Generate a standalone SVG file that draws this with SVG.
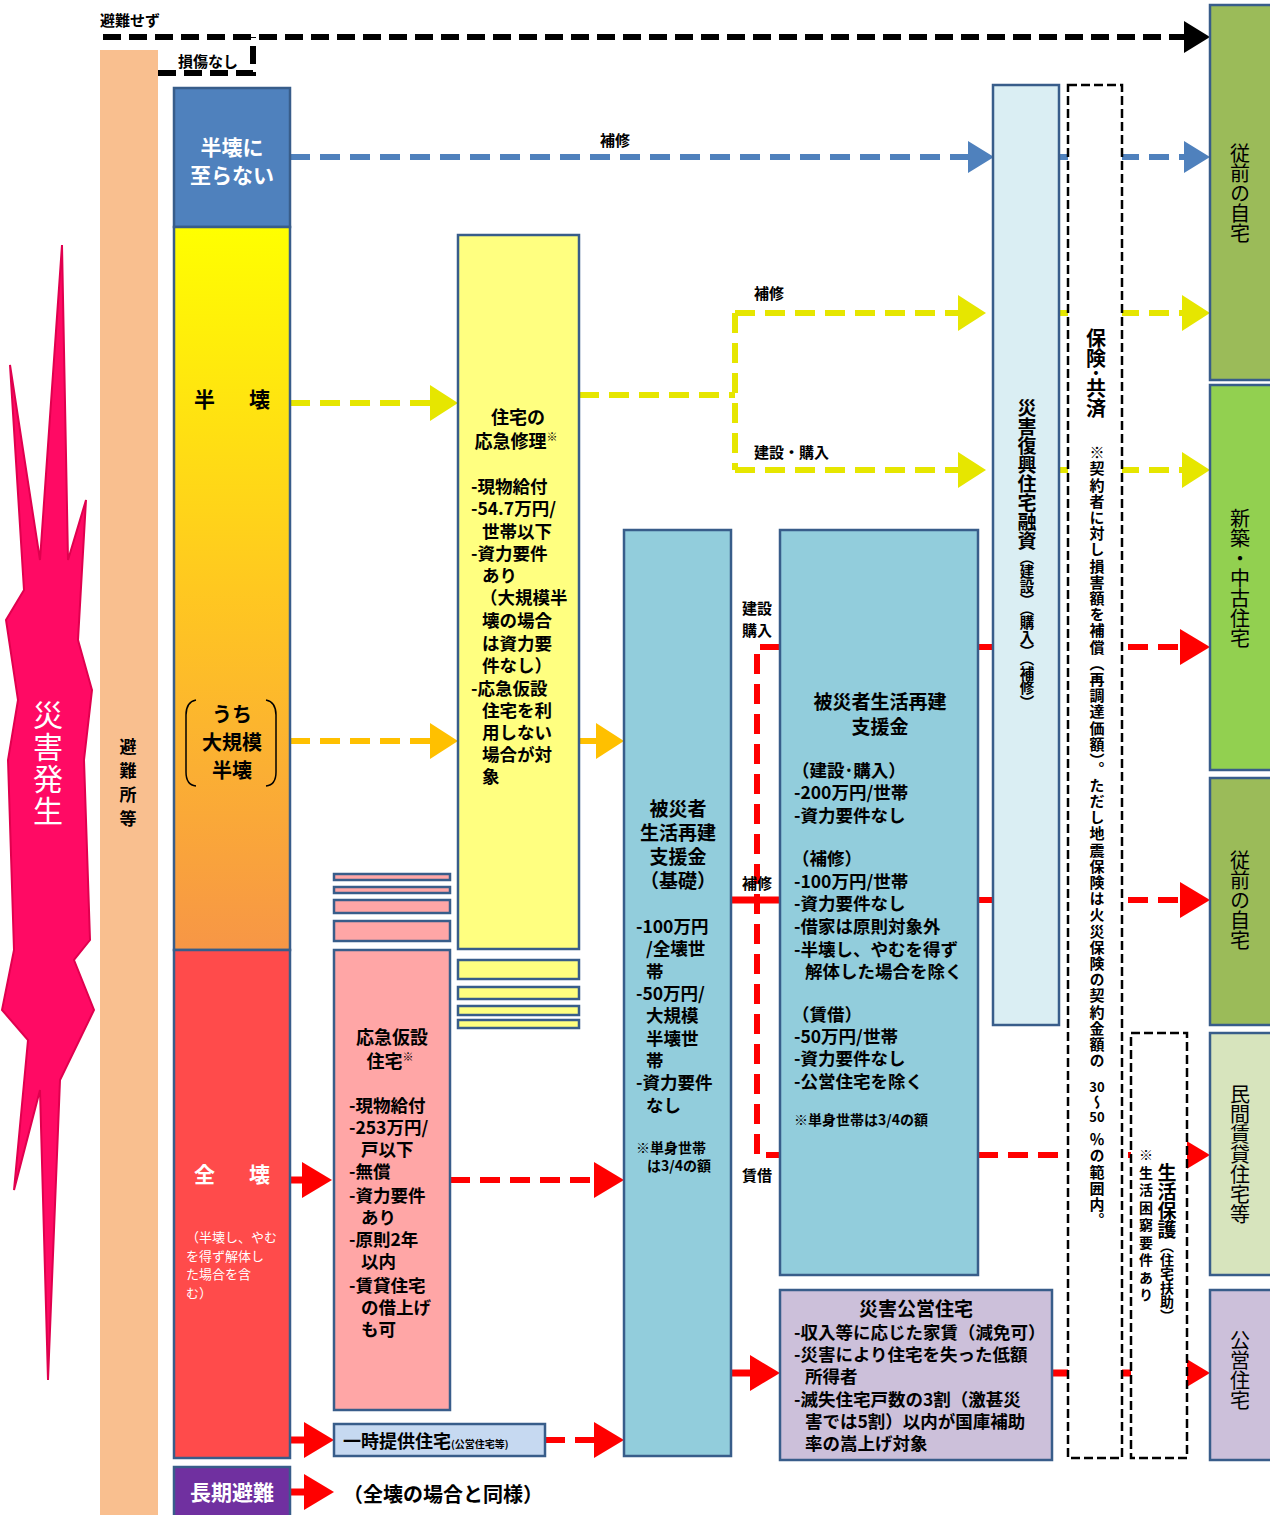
<svg xmlns="http://www.w3.org/2000/svg" width="1270" height="1515" viewBox="0 0 1270 1515">
<defs>
<linearGradient id="gHalf" x1="0" y1="0" x2="0" y2="1">
<stop offset="0" stop-color="#FFFF00"/>
<stop offset="0.5" stop-color="#FFC820"/>
<stop offset="1" stop-color="#F79646"/>
</linearGradient>
<marker id="aK" markerUnits="userSpaceOnUse" markerWidth="26" markerHeight="32" refX="0" refY="16" orient="auto"><path d="M0,0 L26,16 L0,32 Z" fill="#000"/></marker>
<marker id="aB" markerUnits="userSpaceOnUse" markerWidth="26" markerHeight="32" refX="0" refY="16" orient="auto"><path d="M0,0 L26,16 L0,32 Z" fill="#4F81BD"/></marker>
<marker id="aY" markerUnits="userSpaceOnUse" markerWidth="28" markerHeight="36" refX="0" refY="18" orient="auto"><path d="M0,0 L28,18 L0,36 Z" fill="#E6E600"/></marker>
<marker id="aO" markerUnits="userSpaceOnUse" markerWidth="28" markerHeight="36" refX="0" refY="18" orient="auto"><path d="M0,0 L28,18 L0,36 Z" fill="#FFC000"/></marker>
<marker id="aR" markerUnits="userSpaceOnUse" markerWidth="30" markerHeight="36" refX="0" refY="18" orient="auto"><path d="M0,0 L30,18 L0,36 Z" fill="#FF0000"/></marker>
</defs>
<style>
text{font-family:"Noto Sans CJK JP","Noto Sans CJK SC",sans-serif;font-weight:bold;fill:#000}
.box{stroke:#385D8A;stroke-width:2.5}
.dk{fill:none;stroke:#000;stroke-width:6;stroke-dasharray:18 8}
.db{fill:none;stroke:#4F81BD;stroke-width:6;stroke-dasharray:20 10}
.dy{fill:none;stroke:#E6E600;stroke-width:6;stroke-dasharray:20 10}
.so{fill:none;stroke:#FFC000;stroke-width:6}
.do{fill:none;stroke:#FFC000;stroke-width:6;stroke-dasharray:20 10}
.dr{fill:none;stroke:#FF0000;stroke-width:6;stroke-dasharray:20 10}
.sr{fill:none;stroke:#FF0000;stroke-width:7}
.dash{fill:#fff;stroke:#000;stroke-width:2.5;stroke-dasharray:9 4}
.v{writing-mode:vertical-rl}
.t17{font-size:17.5px}
.lbl{font-size:15px}
.w{fill:#fff}
.rc{font-size:20px;font-weight:normal}
</style>

<g id="disaster">
<polygon points="62,245 68,560 86,500 78,640 92,690 84,760 90,940 74,960 94,1010 60,1080 48,1380 40,1090 14,1190 28,1040 2,1010 14,950 8,760 18,700 6,620 24,590 10,365 40,560" fill="#FF0A64" stroke="#E0004E" stroke-width="2"/>
<text class="v w" x="48" y="700" style="font-size:30px;font-weight:normal;letter-spacing:2px">災害発生</text>
</g>

<g id="shelter">
<rect x="100" y="50" width="58" height="1470" fill="#F9BF8F"/>
<text class="v" x="128" y="738" style="font-size:17px;letter-spacing:7px">避難所等</text>
</g>

<g id="connectors">
<path class="dk" d="M103,37 H1184" marker-end="url(#aK)"/>
<path class="dk" d="M158,73 H253 V37"/>
<path class="db" d="M290,157 H968" marker-end="url(#aB)"/>
<path class="db" d="M1059,157 H1184" marker-end="url(#aB)"/>
<path class="dy" d="M290,403 H430" marker-end="url(#aY)"/>
<path class="dy" d="M579,395 H735"/>
<path class="dy" d="M735,313 V470"/>
<path class="dy" d="M735,313 H958" marker-end="url(#aY)"/>
<path class="dy" d="M735,470 H958" marker-end="url(#aY)"/>
<path class="dy" d="M1059,313 H1182" marker-end="url(#aY)"/>
<path class="dy" d="M1059,470 H1182" marker-end="url(#aY)"/>
<path class="do" d="M290,741 H430" marker-end="url(#aO)"/>
<path class="so" d="M579,741 H596" marker-end="url(#aO)"/>
<path class="sr" d="M290,1180 H302" marker-end="url(#aR)"/>
<path class="dr" d="M450,1180 H594" marker-end="url(#aR)"/>
<path class="sr" d="M290,1440 H304" marker-end="url(#aR)"/>
<path class="dr" d="M545,1440 H594" marker-end="url(#aR)"/>
<path class="sr" d="M290,1492 H304" marker-end="url(#aR)"/>
<path class="sr" d="M731,1373 H750" marker-end="url(#aR)"/>
<path class="dr" d="M780,647 H757 V1155 H780"/>
<path class="sr" d="M731,900 H780"/>
<path class="dr" d="M978,647 H1180" marker-end="url(#aR)"/>
<path class="dr" d="M978,900 H1180" marker-end="url(#aR)"/>
<path class="dr" d="M978,1155 H1180" marker-end="url(#aR)"/>
<path class="sr" d="M1052,1373 H1180" marker-end="url(#aR)"/>
<text class="lbl" x="100" y="26">避難せず</text>
<text class="lbl" x="178" y="67">損傷なし</text>
<text class="lbl" x="600" y="146">補修</text>
<text class="lbl" x="754" y="299">補修</text>
<text class="lbl" x="754" y="458">建設・購入</text>
<text class="lbl" x="742" y="614">建設</text>
<text class="lbl" x="742" y="636">購入</text>
<text class="lbl" x="742" y="889">補修</text>
<text class="lbl" x="742" y="1181">賃借</text>
</g>

<g id="n-not-half">
<rect class="box" x="174" y="88" width="116" height="139" fill="#4F81BD"/>
<text class="w" x="232" y="155" text-anchor="middle" style="font-size:21px">半壊に</text>
<text class="w" x="232" y="183" text-anchor="middle" style="font-size:21px">至らない</text>
</g>

<g id="n-half">
<rect class="box" x="174" y="227" width="116" height="723" fill="url(#gHalf)"/>
<text x="194" y="407" style="font-size:21px">半</text>
<text x="249" y="407" style="font-size:21px">壊</text>
<path d="M196,700 Q186,702 186,715 V772 Q186,785 196,786" fill="none" stroke="#000" stroke-width="1.5"/>
<path d="M266,700 Q276,702 276,715 V772 Q276,785 266,786" fill="none" stroke="#000" stroke-width="1.5"/>
<text x="232" y="722" text-anchor="middle" style="font-size:20px">うち</text>
<text x="232" y="750" text-anchor="middle" style="font-size:20px">大規模</text>
<text x="232" y="778" text-anchor="middle" style="font-size:20px">半壊</text>
</g>

<g id="n-full">
<rect class="box" x="174" y="950" width="116" height="508" fill="#FF4B4B"/>
<text class="w" x="194" y="1182" style="font-size:21px">全</text>
<text class="w" x="249" y="1182" style="font-size:21px">壊</text>
<text class="w" x="186" y="1242" style="font-size:13px;font-weight:normal">（半壊し、やむ</text>
<text class="w" x="186" y="1261" style="font-size:13px;font-weight:normal">を得ず解体し</text>
<text class="w" x="186" y="1279" style="font-size:13px;font-weight:normal">た場合を含</text>
<text class="w" x="186" y="1298" style="font-size:13px;font-weight:normal">む）</text>
</g>

<g id="n-long">
<rect class="box" x="174" y="1467" width="116" height="52" fill="#7030A0"/>
<text class="w" x="232" y="1500" text-anchor="middle" style="font-size:21px">長期避難</text>
</g>
<g id="n-long-note">
<text x="343" y="1502" style="font-size:20px">（全壊の場合と同様）</text>
</g>

<g id="n-repair">
<rect class="box" x="458" y="235" width="121" height="714" fill="#FFFF80"/>
<rect class="box" x="458" y="960" width="121" height="19" fill="#FFFF80"/>
<rect class="box" x="458" y="987" width="121" height="12" fill="#FFFF80"/>
<rect class="box" x="458" y="1006" width="121" height="9" fill="#FFFF80"/>
<rect class="box" x="458" y="1020" width="121" height="8" fill="#FFFF80"/>
<text x="518" y="424" text-anchor="middle" style="font-size:18px">住宅の</text>
<text x="516" y="448" text-anchor="middle" style="font-size:18px">応急修理<tspan style="font-size:11px" dy="-7">※</tspan></text>
<g class="t17">
<text x="471" y="493">-現物給付</text>
<text x="471" y="515">-54.7万円/</text>
<text x="482" y="538">世帯以下</text>
<text x="471" y="560">-資力要件</text>
<text x="482" y="582">あり</text>
<text x="480" y="604">（大規模半</text>
<text x="482" y="627">壊の場合</text>
<text x="482" y="650">は資力要</text>
<text x="482" y="672">件なし）</text>
<text x="471" y="695">-応急仮設</text>
<text x="482" y="717">住宅を利</text>
<text x="482" y="739">用しない</text>
<text x="482" y="761">場合が対</text>
<text x="482" y="783">象</text>
</g>
</g>

<g id="n-temp">
<rect class="box" x="334" y="874" width="116" height="6" fill="#FFA6A6"/>
<rect class="box" x="334" y="887" width="116" height="6" fill="#FFA6A6"/>
<rect class="box" x="334" y="900" width="116" height="13" fill="#FFA6A6"/>
<rect class="box" x="334" y="921" width="116" height="20" fill="#FFA6A6"/>
<rect class="box" x="334" y="950" width="116" height="460" fill="#FFA6A6"/>
<text x="392" y="1044" text-anchor="middle" style="font-size:18px">応急仮設</text>
<text x="390" y="1068" text-anchor="middle" style="font-size:18px">住宅<tspan style="font-size:11px" dy="-7">※</tspan></text>
<g class="t17">
<text x="349" y="1112">-現物給付</text>
<text x="349" y="1134">-253万円/</text>
<text x="361" y="1156">戸以下</text>
<text x="349" y="1178">-無償</text>
<text x="349" y="1202">-資力要件</text>
<text x="361" y="1224">あり</text>
<text x="349" y="1246">-原則2年</text>
<text x="361" y="1268">以内</text>
<text x="349" y="1292">-賃貸住宅</text>
<text x="361" y="1314">の借上げ</text>
<text x="361" y="1336">も可</text>
</g>
</g>

<g id="n-provided">
<rect class="box" x="334" y="1424" width="211" height="32" fill="#C6D9F1"/>
<text x="343" y="1448" style="font-size:18px">一時提供住宅<tspan style="font-size:10px">(公営住宅等)</tspan></text>
</g>

<g id="n-support-base">
<rect class="box" x="624" y="530" width="107" height="926" fill="#92CDDC"/>
<text x="678" y="816" text-anchor="middle" style="font-size:19px">被災者</text>
<text x="678" y="840" text-anchor="middle" style="font-size:19px">生活再建</text>
<text x="678" y="864" text-anchor="middle" style="font-size:19px">支援金</text>
<text x="678" y="888" text-anchor="middle" style="font-size:19px">（基礎）</text>
<g class="t17">
<text x="636" y="933">-100万円</text>
<text x="646" y="955">/全壊世</text>
<text x="646" y="978">帯</text>
<text x="636" y="1000">-50万円/</text>
<text x="646" y="1022">大規模</text>
<text x="646" y="1045">半壊世</text>
<text x="646" y="1067">帯</text>
<text x="636" y="1089">-資力要件</text>
<text x="646" y="1112">なし</text>
</g>
<text x="636" y="1153" style="font-size:14px">※単身世帯</text>
<text x="647" y="1171" style="font-size:14px">は3/4の額</text>
</g>

<g id="n-support-add">
<rect class="box" x="780" y="530" width="198" height="745" fill="#92CDDC"/>
<text x="880" y="709" text-anchor="middle" style="font-size:19px">被災者生活再建</text>
<text x="880" y="734" text-anchor="middle" style="font-size:19px">支援金</text>
<g class="t17">
<text x="792" y="777">（建設･購入）</text>
<text x="794" y="799">-200万円/世帯</text>
<text x="794" y="822">-資力要件なし</text>
<text x="792" y="865">（補修）</text>
<text x="794" y="888">-100万円/世帯</text>
<text x="794" y="910">-資力要件なし</text>
<text x="794" y="933">-借家は原則対象外</text>
<text x="794" y="956">-半壊し、やむを得ず</text>
<text x="805" y="978">解体した場合を除く</text>
<text x="792" y="1021">（賃借）</text>
<text x="794" y="1043">-50万円/世帯</text>
<text x="794" y="1065">-資力要件なし</text>
<text x="794" y="1088">-公営住宅を除く</text>
</g>
<text x="794" y="1125" style="font-size:14px">※単身世帯は3/4の額</text>
</g>

<g id="n-public-disaster">
<rect class="box" x="780" y="1290" width="272" height="170" fill="#CCC0DA"/>
<text x="916" y="1316" text-anchor="middle" style="font-size:19px">災害公営住宅</text>
<g class="t17">
<text x="794" y="1339">-収入等に応じた家賃（減免可）</text>
<text x="794" y="1361">-災害により住宅を失った低額</text>
<text x="805" y="1383">所得者</text>
<text x="794" y="1406">-滅失住宅戸数の3割（激甚災</text>
<text x="805" y="1428">害では5割）以内が国庫補助</text>
<text x="805" y="1450">率の嵩上げ対象</text>
</g>
</g>

<g id="n-loan">
<rect class="box" x="993" y="85" width="66" height="940" fill="#DAEEF3"/>
<text class="v" x="1027" y="398" style="font-size:19px">災害復興住宅融資<tspan style="font-size:14.5px">（建設）（購入）（補修）</tspan></text>
</g>

<g id="n-insurance">
<rect class="dash" x="1068" y="85" width="54" height="1373"/>
<text class="v" x="1096" y="328" style="font-size:20px">保険･共済</text>
<text class="v" x="1097" y="445" style="font-size:15px;letter-spacing:1.2px">※契約者に対し損害額を補償（再調達価額）。ただし地震保険は火災保険の契約金額の</text>
<text x="1097" y="1092" text-anchor="middle" style="font-size:13px">30</text>
<text class="v" x="1097" y="1095" style="font-size:15px">～</text>
<text x="1097" y="1122" text-anchor="middle" style="font-size:13px">50</text>
<text class="v" x="1097" y="1132" style="font-size:15px;letter-spacing:1.2px">％の範囲内。</text>
</g>

<g id="n-welfare">
<rect class="dash" x="1131" y="1033" width="56" height="425"/>
<text class="v" x="1167" y="1163" style="font-size:19px">生活保護<tspan style="font-size:14px">（住宅扶助）</tspan></text>
<text class="v" x="1146" y="1148" style="font-size:14px;letter-spacing:3.5px">※生活困窮要件あり</text>
</g>

<g id="n-home1">
<rect class="box" x="1210" y="5" width="62" height="375" fill="#9BBB59"/>
<text class="v rc" x="1240" y="143">従前の自宅</text>
</g>
<g id="n-newhouse">
<rect class="box" x="1210" y="385" width="62" height="385" fill="#92D050"/>
<text class="v rc" x="1240" y="508">新築・中古住宅</text>
</g>
<g id="n-home2">
<rect class="box" x="1210" y="778" width="62" height="247" fill="#9BBB59"/>
<text class="v rc" x="1240" y="850">従前の自宅</text>
</g>
<g id="n-rental">
<rect class="box" x="1210" y="1033" width="62" height="242" fill="#D7E4BD"/>
<text class="v rc" x="1240" y="1084">民間賃貸住宅等</text>
</g>
<g id="n-public">
<rect class="box" x="1210" y="1290" width="62" height="170" fill="#CCC0DA"/>
<text class="v rc" x="1240" y="1330">公営住宅</text>
</g>
</svg>
